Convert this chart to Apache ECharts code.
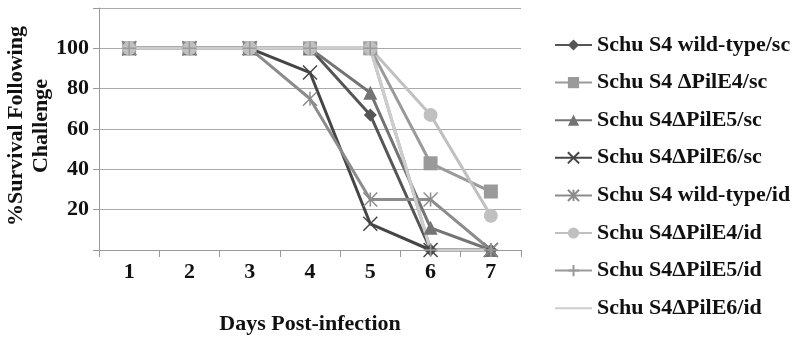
<!DOCTYPE html>
<html>
<head>
<meta charset="utf-8">
<script src="https://cdn.jsdelivr.net/npm/echarts@6/dist/echarts.min.js"></script>
<style>
  html, body { margin: 0; padding: 0; background: #fff; }
  #chart { width: 800px; height: 343px; }
</style>
</head>
<body>
<div id="chart"></div>
<script>
// days post-infection
var days = ['1', '2', '3', '4', '5', '6', '7'];

// % survival per group
var wtSc   = [100, 100, 100, 100, 67, 0, 0];
var e4Sc   = [100, 100, 100, 100, 100, 43, 29];
var e5Sc   = [100, 100, 100, 100, 78, 11, 0];
var e6Sc   = [100, 100, 100, 88, 13, 0, 0];
var wtId   = [100, 100, 100, 75, 25, 25, 0];
var e4Id   = [100, 100, 100, 100, 100, 67, 17];
var e5Id   = [100, 100, 100, 100, 100, 0, 0];
var e6Id   = [100, 100, 100, 100, 100, 0, 0];

var names = [
    'Schu S4 wild-type/sc',
    'Schu S4 \u0394PilE4/sc',
    'Schu S4\u0394PilE5/sc',
    'Schu S4\u0394PilE6/sc',
    'Schu S4 wild-type/id',
    'Schu S4\u0394PilE4/id',
    'Schu S4\u0394PilE5/id',
    'Schu S4\u0394PilE6/id'
];

var yTicks = [20, 40, 60, 80, 100];
var yTitle = '%Survival Following\nChallenge';

var font = '"Liberation Serif", "DejaVu Serif", serif';

var symX = 'path://M0,0L10,10M10,0L0,10';
var symStar = 'path://M0,0L10,10M10,0L0,10M5,0L5,10';
var symPlus = 'path://M5,0L5,10M0,5L10,5';

function mkSeries(name, data, color, symbol, size, stroke) {
    var s = {
        name: name,
        type: 'line',
        data: data,
        symbol: symbol,
        symbolSize: size,
        showSymbol: symbol !== 'none',
        lineStyle: { color: color, width: 3 },
        itemStyle: { color: color },
        emphasis: { disabled: true },
        animation: false
    };
    if (stroke) {
        s.itemStyle = { color: 'none', borderColor: color, borderWidth: 1.5 };
    }
    return s;
}

var legendData = names.map(function (n, i) {
    if (i === 7) {
        // plain line, no marker
        return { name: n, itemStyle: { color: 'transparent', borderWidth: 0, opacity: 0 } };
    }
    return { name: n };
});

var chart = echarts.init(document.getElementById('chart'));

var option = {
    backgroundColor: '#fff',
    animation: false,
    grid: {
        left: 99,
        right: 279,
        top: 8,
        bottom: 93,
        containLabel: false,
        outerBoundsMode: 'none'
    },
    graphic: [{
        type: 'text',
        x: 29,
        y: 126,
        rotation: Math.PI / 2,
        style: {
            text: yTitle,
            font: 'bold 22px ' + font,
            lineHeight: 25,
            fill: '#111',
            align: 'center',
            verticalAlign: 'middle'
        }
    }],
    legend: {
        orient: 'vertical',
        left: 549,
        top: 28,
        itemWidth: 37,
        itemHeight: 14,
        itemGap: 13.6,
        textStyle: {
            fontFamily: font,
            fontWeight: 'bold',
            fontSize: 22,
            color: '#111',
            lineHeight: 24
        },
        data: legendData
    },
    xAxis: {
        type: 'category',
        data: days,
        boundaryGap: true,
        name: 'Days Post-infection',
        nameLocation: 'middle',
        nameGap: 63,
        nameTextStyle: {
            fontFamily: font,
            fontWeight: 'bold',
            fontSize: 22,
            color: '#111'
        },
        axisLine: { lineStyle: { color: '#999', width: 1 } },
        axisTick: { show: true, length: 7, lineStyle: { color: '#999' } },
        axisLabel: {
            fontFamily: font,
            fontWeight: 'bold',
            fontSize: 22,
            color: '#111',
            margin: 11
        },
        splitLine: { show: false }
    },
    yAxis: {
        type: 'value',
        min: 0,
        max: 120,
        interval: 20,
        axisLine: { show: true, lineStyle: { color: '#999', width: 1 } },
        axisTick: { show: true, length: 6, lineStyle: { color: '#999' } },
        axisLabel: {
            fontFamily: font,
            fontWeight: 'bold',
            fontSize: 22,
            color: '#111',
            margin: 10,
            formatter: function (v) {
                return yTicks.indexOf(v) >= 0 ? String(v) : '';
            }
        },
        splitLine: { show: true, lineStyle: { color: '#aaa', width: 1 } }
    },
    series: [
        mkSeries(names[0], wtSc, '#555555', 'diamond', 13),
        mkSeries(names[1], e4Sc, '#9a9a9a', 'rect', 14),
        mkSeries(names[2], e5Sc, '#747474', 'triangle', 14),
        mkSeries(names[3], e6Sc, '#454545', symX, 14, true),
        mkSeries(names[4], wtId, '#8c8c8c', symStar, 14, true),
        mkSeries(names[5], e4Id, '#c0c0c0', 'circle', 14),
        mkSeries(names[6], e5Id, '#9a9a9a', symPlus, 14, true),
        mkSeries(names[7], e6Id, '#cdcdcd', 'none', 0)
    ]
};

chart.setOption(option);
</script>
</body>
</html>
